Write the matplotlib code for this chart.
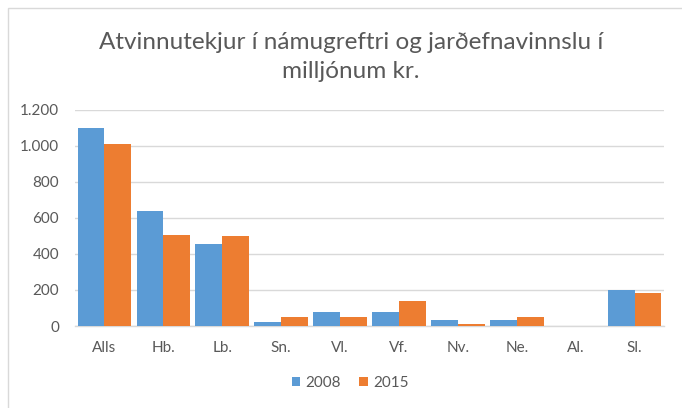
import matplotlib.pyplot as plt
import numpy as np
from matplotlib.patches import Rectangle

categories = ["Alls", "Hb.", "Lb.", "Sn.", "Vl.", "Vf.", "Nv.", "Ne.", "Al.", "Sl."]
values_2008 = [1100, 640, 455, 22, 78, 78, 33, 33, 0, 198]
values_2015 = [1010, 505, 500, 52, 52, 137, 11, 52, 0, 182]
yticks = [0, 200, 400, 600, 800, 1000, 1200]
ytick_labels = ["0", "200", "400", "600", "800", "1.000", "1.200"]

BLUE = "#5b9bd5"
ORANGE = "#ed7d31"
TEXT = "#595959"
GRID = "#d9d9d9"

plt.rcParams["font.family"] = ["Lato", "DejaVu Sans"]

W, H = 682, 408
fig = plt.figure(figsize=(W / 100, H / 100), dpi=100)

# chart border (only top/left edges fall inside the crop)
fig.patches.append(Rectangle((8 / W, -0.1), 1.2, 1.1 - 8 / H,
                             transform=fig.transFigure, fill=False,
                             edgecolor=GRID, linewidth=1.0))

left, right, top, bottom = 75, 664, 109.5, 326
ax = fig.add_axes([left / W, 1 - bottom / H, (right - left) / W, (bottom - top) / H])

x = np.arange(len(categories))
bw = 0.455
ax.bar(x - bw / 2, values_2008, bw, color=BLUE, label="2008", zorder=3)
ax.bar(x + bw / 2, values_2015, bw, color=ORANGE, label="2015", zorder=3)

ax.set_xlim(-0.5, len(categories) - 0.5)
ax.set_ylim(0, 1200)
ax.set_yticks(yticks)
ax.set_yticklabels(ytick_labels)
ax.set_xticks(x)
ax.set_xticklabels(categories)
ax.yaxis.grid(True, color=GRID, linewidth=1.0, zorder=0)
ax.tick_params(axis="both", length=0, colors=TEXT, labelsize=11)
ax.tick_params(axis="y", pad=11.5)
ax.tick_params(axis="x", pad=11)
for s in ["top", "right", "left"]:
    ax.spines[s].set_visible(False)
ax.spines["bottom"].set_color(GRID)
ax.spines["bottom"].set_linewidth(1.0)

fig.text(351 / W, 1 - 57 / H, "Atvinnutekjur í námugreftri og jarðefnavinnslu í\nmilljónum kr.",
         ha="center", va="center", fontsize=17.5, color=TEXT, linespacing=1.5)

leg = fig.legend(loc="center", bbox_to_anchor=(350 / W, 1 - 383 / H), ncol=2, frameon=False,
                 fontsize=11, handlelength=0.55, handleheight=0.55, handletextpad=0.35,
                 columnspacing=1.2, labelcolor=TEXT)

fig.savefig("out.png", dpi=100)
